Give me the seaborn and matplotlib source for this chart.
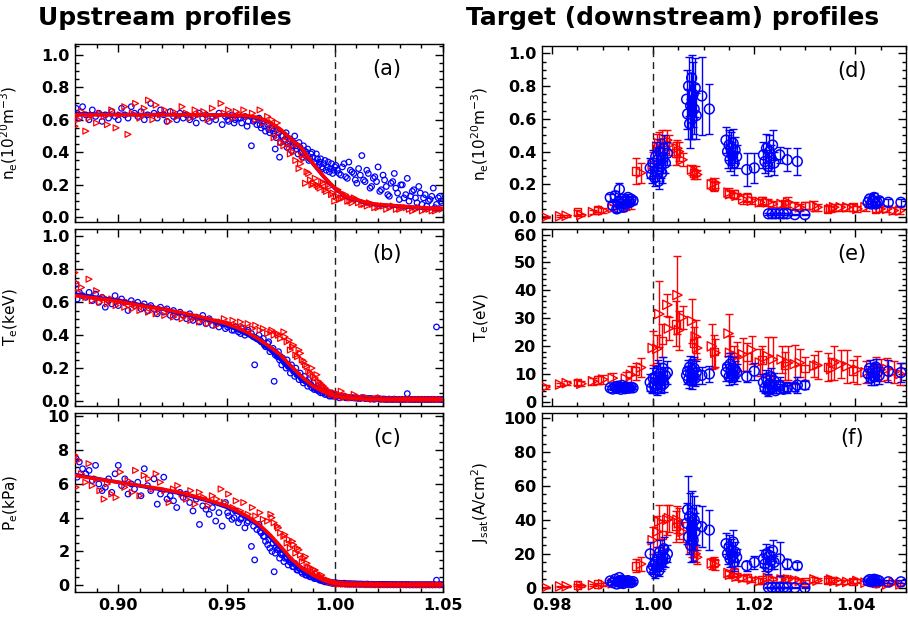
import matplotlib
matplotlib.use("Agg")
import matplotlib.pyplot as plt
import seaborn as sns
from matplotlib.ticker import MultipleLocator, FormatStrFormatter, NullFormatter

# ---------------- Upstream data (blue circles) ----------------
up_blue_x = [
    0.8805, 0.8810, 0.8820, 0.8835, 0.8850, 0.8865, 0.8880, 0.8895, 0.8910, 0.8925,
    0.8940, 0.8955, 0.8970, 0.8985, 0.9000, 0.9015, 0.9030, 0.9045, 0.9060, 0.9075,
    0.9090, 0.9105, 0.9120, 0.9135, 0.9150, 0.9165, 0.9180, 0.9195, 0.9210, 0.9225,
    0.9240, 0.9255, 0.9270, 0.9285, 0.9300,
    0.9315, 0.9330, 0.9345, 0.9360, 0.9375, 0.9390, 0.9405, 0.9420, 0.9435, 0.9450,
    0.9465, 0.9480, 0.9495, 0.9510, 0.9525, 0.9540, 0.9555, 0.9570, 0.9585, 0.9600,
    0.9615, 0.9630, 0.9640, 0.9650, 0.9660, 0.9670, 0.9680, 0.9690, 0.9700, 0.9710,
    0.9720, 0.9725, 0.9735, 0.9745, 0.9755, 0.9765, 0.9775, 0.9785, 0.9795, 0.9805,
    0.9815, 0.9825, 0.9835, 0.9845, 0.9855, 0.9865, 0.9875, 0.9885, 0.9895, 0.9905,
    0.9915, 0.9925, 0.9935, 0.9945, 0.9955, 0.9965, 0.9975, 0.9985, 0.9995,
    1.0005, 1.0020, 1.0035, 1.0050, 1.0065, 1.0080, 1.0095, 1.0110, 1.0125, 1.0140,
    1.0155, 1.0170, 1.0185, 1.0200, 1.0215, 1.0230, 1.0245, 1.0260, 1.0275, 1.0290,
    1.0305, 1.0320, 1.0335, 1.0350, 1.0365, 1.0380, 1.0395, 1.0410, 1.0425, 1.0440,
    1.0455, 1.0470, 1.0485, 1.0495]
up_blue_ne = [
    0.67, 0.64, 0.61, 0.68, 0.63, 0.60, 0.66, 0.62, 0.64, 0.59,
    0.63, 0.61, 0.65, 0.62, 0.60, 0.67, 0.63, 0.61, 0.68, 0.64,
    0.62, 0.65, 0.60, 0.63, 0.70, 0.64, 0.61, 0.66, 0.63, 0.59,
    0.65, 0.62, 0.60, 0.64, 0.61,
    0.63, 0.60, 0.62, 0.58, 0.64, 0.61, 0.63, 0.59, 0.62, 0.60,
    0.64, 0.57, 0.62, 0.59, 0.63, 0.60, 0.61, 0.58, 0.62, 0.59,
    0.44, 0.60, 0.57, 0.61, 0.55, 0.59, 0.53, 0.57, 0.52, 0.55,
    0.51, 0.42, 0.54, 0.37, 0.50, 0.47, 0.52, 0.45, 0.48, 0.44,
    0.50, 0.42, 0.46, 0.40, 0.44, 0.38, 0.42, 0.36, 0.40, 0.34,
    0.39, 0.32, 0.36, 0.30, 0.35, 0.31, 0.28, 0.33, 0.29,
    0.32, 0.27, 0.31, 0.25, 0.34, 0.28, 0.23, 0.30, 0.38, 0.22,
    0.27, 0.19, 0.25, 0.31, 0.17, 0.23, 0.14, 0.21, 0.27, 0.15,
    0.20, 0.12, 0.24, 0.13, 0.17, 0.09, 0.15, 0.12, 0.07, 0.11,
    0.18, 0.08, 0.13, 0.09]
up_blue_te = [
    0.71, 0.62, 0.66, 0.64, 0.63, 0.66, 0.61, 0.65, 0.60, 0.63,
    0.57, 0.61, 0.59, 0.64, 0.58, 0.62, 0.60, 0.55, 0.61, 0.58,
    0.60, 0.56, 0.59, 0.55, 0.58, 0.56, 0.53, 0.57, 0.54, 0.56,
    0.52, 0.55, 0.51, 0.54, 0.52,
    0.50, 0.53, 0.49, 0.51, 0.48, 0.52, 0.47, 0.50, 0.46, 0.48,
    0.45, 0.47, 0.44, 0.46, 0.43, 0.45, 0.42, 0.44, 0.40, 0.43,
    0.41, 0.22, 0.38, 0.40, 0.36, 0.38, 0.33, 0.35, 0.30, 0.31,
    0.12, 0.28, 0.27, 0.25, 0.22, 0.24, 0.20, 0.21, 0.17, 0.19,
    0.15, 0.16, 0.13, 0.14, 0.11, 0.12, 0.09, 0.10, 0.08, 0.07,
    0.07, 0.06, 0.05, 0.05, 0.04, 0.04, 0.03, 0.03, 0.03,
    0.030, 0.020, 0.025, 0.020, 0.020, 0.020, 0.018, 0.015, 0.020, 0.015,
    0.015, 0.014, 0.012, 0.015, 0.012, 0.012, 0.010, 0.010, 0.012, 0.010,
    0.010, 0.010, 0.045, 0.010, 0.010, 0.010, 0.010, 0.010, 0.010, 0.010,
    0.010, 0.450, 0.010, 0.010]
up_blue_pe = [
    7.5, 6.4, 7.3, 6.9, 6.6, 6.8, 6.2, 7.1, 6.0, 5.6,
    5.8, 6.3, 5.5, 6.6, 7.1, 5.9, 6.3, 5.4, 6.0, 5.7,
    6.1, 5.3, 6.9, 5.9, 5.6, 6.3, 4.8, 5.4, 6.4, 5.1,
    5.3, 5.0, 4.6, 5.5, 5.2,
    5.4, 4.9, 4.4, 5.1, 3.6, 4.7, 4.5, 4.2, 4.6, 3.8,
    4.3, 3.5, 4.9, 4.1, 3.9, 4.4, 3.7, 4.0, 3.4, 3.8,
    2.3, 1.5, 3.3, 3.6, 3.1, 2.9, 2.6, 2.4, 2.2, 2.0,
    0.8, 1.9, 2.1, 1.6, 1.8, 1.4, 1.7, 1.2, 1.5, 1.1,
    1.3, 0.9, 1.0, 0.8, 0.9, 0.6, 0.7, 0.5, 0.6, 0.4,
    0.45, 0.35, 0.3, 0.25, 0.2, 0.2, 0.15, 0.12, 0.1,
    0.15, 0.12, 0.10, 0.10, 0.09, 0.08, 0.08, 0.07, 0.07, 0.06,
    0.06, 0.06, 0.05, 0.05, 0.05, 0.05, 0.04, 0.04, 0.04, 0.04,
    0.04, 0.04, 0.05, 0.03, 0.03, 0.03, 0.03, 0.03, 0.03, 0.03,
    0.03, 0.30, 0.03, 0.03]

# second blue time slice (edge region)
up_blue2_x = [
    0.9505, 0.9535, 0.9565, 0.9595, 0.9625, 0.9655, 0.9675, 0.9695, 0.9715, 0.9730,
    0.9740, 0.9750, 0.9760, 0.9770, 0.9780, 0.9790, 0.9800, 0.9810, 0.9820, 0.9830,
    0.9840, 0.9850, 0.9860, 0.9870, 0.9880, 0.9890, 0.9900, 0.9910, 0.9920, 0.9930,
    0.9940, 0.9950, 0.9960, 0.9970, 0.9980, 0.9990, 1.0000, 1.0012, 1.0028, 1.0043,
    1.0058, 1.0072, 1.0088, 1.0102, 1.0118, 1.0133, 1.0148, 1.0163, 1.0178, 1.0193,
    1.0208, 1.0223, 1.0238, 1.0252, 1.0268, 1.0282, 1.0298, 1.0312, 1.0328, 1.0343,
    1.0358, 1.0373, 1.0388, 1.0403, 1.0418, 1.0433, 1.0448, 1.0463, 1.0478, 1.0490]
up_blue2_ne = [
    0.60, 0.58, 0.61, 0.56, 0.59, 0.57, 0.56, 0.54, 0.53, 0.49,
    0.52, 0.46, 0.50, 0.48, 0.43, 0.47, 0.41, 0.46, 0.44, 0.39,
    0.43, 0.37, 0.41, 0.40, 0.35, 0.39, 0.37, 0.33, 0.36, 0.34,
    0.31, 0.33, 0.29, 0.34, 0.30, 0.27, 0.31, 0.29, 0.26, 0.33,
    0.24, 0.29, 0.27, 0.21, 0.26, 0.23, 0.29, 0.18, 0.24, 0.22,
    0.16, 0.26, 0.19, 0.13, 0.22, 0.18, 0.11, 0.20, 0.14, 0.10,
    0.16, 0.12, 0.19, 0.08, 0.14, 0.10, 0.13, 0.06, 0.12, 0.10]
up_blue2_te = [
    0.45, 0.43, 0.41, 0.42, 0.39, 0.37, 0.34, 0.36, 0.32, 0.29,
    0.30, 0.27, 0.26, 0.23, 0.25, 0.21, 0.22, 0.18, 0.20, 0.16,
    0.17, 0.13, 0.15, 0.12, 0.13, 0.10, 0.11, 0.08, 0.09, 0.07,
    0.08, 0.06, 0.06, 0.05, 0.05, 0.04, 0.04, 0.03, 0.03, 0.03,
    0.02, 0.02, 0.02, 0.02, 0.015, 0.02, 0.015, 0.015, 0.012, 0.015,
    0.012, 0.012, 0.01, 0.012, 0.01, 0.01, 0.01, 0.01, 0.01, 0.01,
    0.01, 0.01, 0.01, 0.01, 0.01, 0.01, 0.01, 0.01, 0.01, 0.01]
up_blue2_pe = [
    4.3, 4.0, 3.9, 3.7, 3.5, 3.2, 2.9, 2.7, 2.5, 2.3,
    2.2, 1.9, 1.9, 1.6, 1.6, 1.4, 1.3, 1.1, 1.2, 0.9,
    1.0, 0.7, 0.8, 0.6, 0.6, 0.5, 0.5, 0.4, 0.4, 0.3,
    0.3, 0.25, 0.2, 0.2, 0.18, 0.15, 0.14, 0.12, 0.1, 0.12,
    0.08, 0.09, 0.08, 0.07, 0.07, 0.06, 0.07, 0.05, 0.05, 0.05,
    0.04, 0.05, 0.04, 0.04, 0.04, 0.04, 0.03, 0.04, 0.03, 0.03,
    0.03, 0.03, 0.03, 0.03, 0.03, 0.03, 0.03, 0.03, 0.03, 0.03]

# ---------------- Upstream data (red triangles) ----------------
up_red_x = [
    0.8800, 0.8805, 0.8815, 0.8830, 0.8850, 0.8865, 0.8880, 0.8900, 0.8915, 0.8935,
    0.8950, 0.8970, 0.8990, 0.9010, 0.9030, 0.9045, 0.9065, 0.9080, 0.9100, 0.9120,
    0.9140, 0.9160, 0.9175, 0.9195, 0.9215, 0.9235, 0.9255, 0.9275, 0.9295, 0.9315,
    0.9335, 0.9355, 0.9375, 0.9395, 0.9415, 0.9435, 0.9455, 0.9475, 0.9490, 0.9510,
    0.9530, 0.9545, 0.9565, 0.9580, 0.9600, 0.9620, 0.9635, 0.9655, 0.9670, 0.9690,
    0.9705, 0.9720, 0.9735, 0.9750, 0.9765, 0.9780, 0.9795, 0.9805, 0.9820, 0.9835,
    0.9850, 0.9865, 0.9880, 0.9895, 0.9910, 0.9925, 0.9940, 0.9955, 0.9970, 0.9985,
    1.0000, 1.0015, 1.0030, 1.0050, 1.0070, 1.0090, 1.0110, 1.0135, 1.0160, 1.0185,
    1.0210, 1.0240, 1.0270, 1.0300, 1.0330, 1.0360, 1.0390, 1.0420, 1.0450, 1.0480]
up_red_ne = [
    0.56, 0.62, 0.60, 0.65, 0.53, 0.61, 0.63, 0.58, 0.64, 0.62,
    0.57, 0.66, 0.55, 0.63, 0.68, 0.51, 0.64, 0.70, 0.61, 0.67,
    0.72, 0.60, 0.69, 0.63, 0.66, 0.59, 0.65, 0.62, 0.68, 0.64,
    0.61, 0.66, 0.63, 0.65, 0.60, 0.67, 0.62, 0.70, 0.64, 0.66,
    0.61, 0.65, 0.63, 0.66, 0.62, 0.64, 0.60, 0.66, 0.58, 0.62,
    0.55, 0.49, 0.58, 0.46, 0.44, 0.50, 0.39, 0.45, 0.35, 0.30,
    0.38, 0.21, 0.27, 0.20, 0.24, 0.19, 0.22, 0.17, 0.20, 0.14,
    0.10, 0.17, 0.12, 0.14, 0.10, 0.12, 0.09, 0.08, 0.09, 0.06,
    0.07, 0.05, 0.07, 0.05, 0.06, 0.04, 0.06, 0.05, 0.04, 0.05]
up_red_te = [
    0.78, 0.72, 0.66, 0.69, 0.63, 0.74, 0.61, 0.67, 0.60, 0.63,
    0.59, 0.62, 0.58, 0.61, 0.57, 0.60, 0.56, 0.59, 0.55, 0.58,
    0.54, 0.57, 0.53, 0.56, 0.52, 0.55, 0.51, 0.53, 0.50, 0.52,
    0.49, 0.51, 0.48, 0.50, 0.47, 0.49, 0.46, 0.48, 0.50, 0.47,
    0.49, 0.46, 0.48, 0.45, 0.47, 0.44, 0.46, 0.43, 0.44, 0.41,
    0.42, 0.40, 0.41, 0.38, 0.42, 0.36, 0.31, 0.33, 0.28, 0.31,
    0.25, 0.22, 0.18, 0.20, 0.14, 0.12, 0.10, 0.08, 0.06, 0.04,
    0.05, 0.03, 0.06, 0.03, 0.02, 0.04, 0.02, 0.02, 0.015, 0.015,
    0.02, 0.01, 0.01, 0.01, 0.01, 0.01, 0.01, 0.01, 0.01, 0.01]
up_red_pe = [
    7.7, 5.8, 7.4, 6.6, 6.1, 7.2, 5.9, 6.3, 5.6, 5.1,
    6.0, 5.4, 5.2, 6.7, 5.8, 6.2, 5.5, 6.8, 5.3, 6.5,
    6.3, 5.7, 6.6, 6.1, 5.6, 4.9, 5.7, 5.9, 5.4, 5.1,
    5.6, 4.8, 5.5, 5.2, 4.7, 5.3, 5.1, 5.7, 4.9, 5.4,
    4.6, 5.0, 4.4, 4.9, 4.2, 4.6, 4.1, 4.3, 3.9, 3.8,
    4.2, 3.7, 3.5, 3.1, 2.9, 2.5, 2.2, 2.6, 1.9, 2.1,
    1.4, 1.7, 1.1, 0.8, 0.9, 0.5, 0.6, 0.35, 0.3, 0.2,
    0.15, 0.1, 0.08, 0.07, 0.05, 0.05, 0.04, 0.04, 0.03, 0.03,
    0.03, 0.02, 0.02, 0.02, 0.02, 0.02, 0.02, 0.02, 0.02, 0.02]

# second red time slice (edge region)
up_red2_x = [
    0.9710, 0.9740, 0.9770, 0.9790, 0.9810, 0.9828, 0.9842, 0.9858, 0.9872, 0.9888,
    0.9902, 0.9918, 0.9932, 0.9948, 0.9962, 0.9978, 0.9992, 1.0008, 1.0022, 1.0040,
    1.0060, 1.0080, 1.0100, 1.0125, 1.0150, 1.0175, 1.0200, 1.0225, 1.0255, 1.0285,
    1.0315, 1.0345, 1.0375, 1.0405, 1.0435, 1.0465, 1.0495]
up_red2_ne = [
    0.60, 0.52, 0.47, 0.43, 0.40, 0.45, 0.33, 0.36, 0.28, 0.23,
    0.21, 0.20, 0.18, 0.21, 0.16, 0.19, 0.15, 0.13, 0.11, 0.12,
    0.10, 0.09, 0.11, 0.08, 0.07, 0.08, 0.06, 0.07, 0.06, 0.05,
    0.06, 0.05, 0.05, 0.04, 0.05, 0.04, 0.05]
up_red2_te = [
    0.43, 0.40, 0.39, 0.37, 0.34, 0.27, 0.29, 0.24, 0.21, 0.17,
    0.15, 0.16, 0.11, 0.09, 0.07, 0.05, 0.04, 0.03, 0.04, 0.02,
    0.03, 0.02, 0.02, 0.015, 0.02, 0.01, 0.015, 0.01, 0.01, 0.01,
    0.01, 0.01, 0.01, 0.01, 0.01, 0.01, 0.01]
up_red2_pe = [
    4.0, 3.4, 3.0, 2.7, 2.4, 2.2, 1.8, 1.6, 1.3, 1.0,
    0.9, 0.7, 0.55, 0.4, 0.3, 0.2, 0.15, 0.1, 0.08, 0.06,
    0.05, 0.04, 0.04, 0.03, 0.03, 0.03, 0.02, 0.02, 0.02, 0.02,
    0.02, 0.02, 0.02, 0.02, 0.02, 0.02, 0.02]

# ---------------- Upstream fits ----------------
fit_x = [0.880, 0.890, 0.900, 0.910, 0.920, 0.930, 0.940, 0.950, 0.955, 0.960,
         0.965, 0.970, 0.975, 0.980, 0.985, 0.990, 0.995, 1.000, 1.005, 1.010,
         1.015, 1.020, 1.030, 1.040, 1.050]
fit_red_ne = [0.630, 0.630, 0.630, 0.630, 0.630, 0.630, 0.630, 0.628, 0.627, 0.624,
              0.612, 0.585, 0.540, 0.480, 0.420, 0.330, 0.250, 0.180, 0.130, 0.110,
              0.090, 0.080, 0.070, 0.060, 0.055]
fit_blue_ne = [0.635, 0.634, 0.633, 0.632, 0.632, 0.631, 0.630, 0.627, 0.625, 0.620,
               0.608, 0.582, 0.538, 0.478, 0.418, 0.328, 0.248, 0.178, 0.128, 0.108,
               0.088, 0.078, 0.068, 0.058, 0.053]
fit_red_te = [0.640, 0.625, 0.605, 0.580, 0.560, 0.535, 0.505, 0.470, 0.445, 0.415,
              0.375, 0.330, 0.280, 0.210, 0.145, 0.090, 0.055, 0.030, 0.020, 0.015,
              0.010, 0.010, 0.008, 0.008, 0.008]
fit_blue_te = [0.650, 0.630, 0.610, 0.585, 0.560, 0.530, 0.500, 0.460, 0.432, 0.400,
               0.360, 0.310, 0.250, 0.190, 0.130, 0.080, 0.050, 0.030, 0.020, 0.015,
               0.010, 0.010, 0.008, 0.008, 0.008]
fit_red_pe = [6.50, 6.30, 6.10, 5.90, 5.70, 5.45, 5.10, 4.70, 4.40, 4.05,
              3.60, 3.00, 2.30, 1.55, 1.00, 0.60, 0.28, 0.10, 0.05, 0.03,
              0.03, 0.03, 0.03, 0.03, 0.03]
fit_blue_pe = [6.55, 6.32, 6.10, 5.88, 5.66, 5.40, 5.05, 4.62, 4.32, 3.95,
               3.50, 2.85, 2.15, 1.45, 0.90, 0.50, 0.22, 0.08, 0.04, 0.03,
               0.03, 0.03, 0.03, 0.03, 0.03]

# ---------------- Target data (red triangles) ----------------
tg_tri_x = [0.9787, 0.9816, 0.9829, 0.9858, 0.9881, 0.9901, 0.9920, 0.9946, 0.9956, 0.9976,
            0.9999, 1.0008, 1.0012, 1.0028, 1.0031, 1.0048, 1.0051, 1.0058, 1.0077, 1.0084,
            1.0087, 1.0116, 1.0123, 1.0149, 1.0152, 1.0165, 1.0178, 1.0195, 1.0211, 1.0227,
            1.0237, 1.0254, 1.0267, 1.0280, 1.0290, 1.0319, 1.0325, 1.0352, 1.0358, 1.0371,
            1.0384, 1.0404, 1.0420, 1.0450, 1.0463, 1.0476, 1.0489]
tg_tri_ne = [0.000, 0.005, 0.008, 0.012, 0.030, 0.040, 0.055, 0.065, 0.080, 0.270,
             0.320, 0.430, 0.450, 0.470, 0.440, 0.420, 0.400, 0.350, 0.290, 0.280,
             0.260, 0.200, 0.210, 0.150, 0.140, 0.130, 0.110, 0.100, 0.090, 0.090,
             0.080, 0.080, 0.090, 0.070, 0.060, 0.070, 0.060, 0.050, 0.060, 0.060,
             0.060, 0.050, 0.060, 0.050, 0.050, 0.040, 0.040]
tg_tri_ne_err = [0.005, 0.005, 0.006, 0.008, 0.012, 0.015, 0.020, 0.020, 0.030, 0.060,
                 0.080, 0.080, 0.070, 0.060, 0.060, 0.050, 0.060, 0.040, 0.030, 0.030,
                 0.030, 0.030, 0.030, 0.030, 0.020, 0.020, 0.030, 0.020, 0.020, 0.020,
                 0.020, 0.020, 0.030, 0.020, 0.020, 0.030, 0.020, 0.020, 0.020, 0.020,
                 0.020, 0.020, 0.020, 0.020, 0.020, 0.020, 0.020]
tg_tri_te = [5.3, 6.2, 6.7, 6.5, 7.4, 8.0, 8.5, 8.3, 9.7, 12.3,
             19.3, 19.0, 31.5, 34.8, 26.3, 38.3, 25.7, 30.3, 29.0, 23.4,
             19.3, 19.9, 17.6, 24.5, 17.6, 16.4, 17.0, 18.7, 14.1, 16.4,
             15.2, 15.2, 14.0, 13.5, 14.0, 12.9, 13.1, 11.7, 14.0, 13.5,
             12.7, 11.5, 10.6, 11.5, 11.7, 10.6, 10.0]
tg_tri_te_err = [0.6, 0.7, 0.8, 0.8, 1.2, 1.5, 2.0, 2.5, 3.0, 3.5,
                 6.0, 5.0, 12.0, 4.0, 4.0, 14.0, 7.0, 4.0, 8.0, 6.0,
                 4.0, 8.0, 5.0, 7.0, 6.0, 5.0, 6.0, 5.0, 5.0, 7.0,
                 8.0, 5.0, 6.0, 7.0, 5.0, 4.0, 5.0, 4.0, 6.0, 5.0,
                 6.0, 5.0, 4.0, 4.0, 4.0, 4.0, 4.0]
tg_tri_js = [0.2, 0.8, 0.9, 1.1, 1.5, 2.0, 2.6, 3.0, 4.0, 14.0,
             28.0, 33.0, 39.0, 40.0, 41.0, 40.0, 38.0, 33.0, 23.0, 20.0,
             18.0, 14.3, 13.4, 8.7, 7.7, 6.5, 5.8, 4.9, 4.0, 5.8,
             5.0, 4.9, 4.9, 4.5, 4.0, 4.9, 4.2, 4.9, 4.0, 3.6,
             3.4, 4.0, 3.0, 2.5, 2.0, 3.0, 2.0]
tg_tri_js_err = [0.3, 0.4, 0.4, 0.5, 0.6, 0.8, 0.9, 1.0, 1.5, 4.0,
                 8.0, 9.0, 10.0, 9.0, 8.0, 8.0, 9.0, 6.0, 5.0, 5.0,
                 4.0, 3.0, 3.0, 2.0, 2.0, 2.0, 2.0, 1.5, 1.5, 1.5,
                 1.5, 1.5, 1.5, 1.5, 1.2, 1.5, 1.5, 1.5, 1.5, 1.2,
                 1.2, 1.2, 1.0, 1.0, 1.0, 1.0, 1.0]

# ---------------- Target data (red squares) ----------------
tg_sq_x = [0.9850, 0.9890, 0.9965, 1.0018, 1.0045, 1.0080, 1.0120, 1.0160, 1.0185, 1.0215,
           1.0260, 1.0300, 1.0345, 1.0395, 1.0440]
tg_sq_ne = [0.030, 0.045, 0.280, 0.460, 0.390, 0.270, 0.190, 0.140, 0.120, 0.100,
            0.080, 0.070, 0.050, 0.060, 0.050]
tg_sq_ne_err = [0.015, 0.015, 0.080, 0.070, 0.070, 0.040, 0.030, 0.025, 0.025, 0.020,
                0.020, 0.020, 0.020, 0.020, 0.020]
tg_sq_te = [7.0, 7.8, 11.0, 22.0, 28.0, 21.0, 18.0, 15.0, 16.0, 15.0,
            13.0, 12.0, 12.5, 11.0, 12.0]
tg_sq_te_err = [1.0, 1.5, 3.0, 6.0, 8.0, 6.0, 6.0, 5.0, 5.0, 5.0,
                5.0, 4.0, 5.0, 4.0, 4.0]
tg_sq_js = [1.5, 2.2, 13.0, 31.0, 36.0, 24.0, 15.0, 9.0, 6.0, 4.5,
            5.0, 3.5, 4.5, 3.8, 2.5]
tg_sq_js_err = [0.6, 0.8, 4.0, 9.0, 9.0, 6.0, 3.0, 2.5, 2.0, 1.5,
                1.5, 1.2, 1.5, 1.2, 1.0]

# ---------------- Target data (blue circles) ----------------
tg_blue_x = [
    0.9915, 0.9920, 0.9925, 0.9928, 0.9930, 0.9933, 0.9936, 0.9938, 0.9941, 0.9944, 0.9947, 0.9950, 0.9953, 0.9956, 0.9960,
    0.9994, 0.9997, 1.0000, 1.0003, 1.0005, 1.0007, 1.0009, 1.0011, 1.0013, 1.0015, 1.0017, 1.0019, 1.0021, 1.0024, 1.0028,
    1.0066, 1.0068, 1.0070, 1.0072, 1.0074, 1.0076, 1.0077, 1.0079, 1.0081, 1.0083, 1.0085, 1.0096, 1.0111,
    1.0144, 1.0147, 1.0150, 1.0152, 1.0154, 1.0156, 1.0158, 1.0160, 1.0162, 1.0165, 1.0185, 1.0200,
    1.0218, 1.0221, 1.0224, 1.0227, 1.0230, 1.0233, 1.0236, 1.0239, 1.0250, 1.0265, 1.0285,
    1.0228, 1.0235, 1.0242, 1.0250, 1.0258, 1.0265, 1.0280, 1.0300,
    1.0425, 1.0428, 1.0431, 1.0434, 1.0437, 1.0440, 1.0443, 1.0447, 1.0465, 1.0490]
tg_blue_ne = [
    0.12, 0.07, 0.13, 0.05, 0.09, 0.17, 0.08, 0.11, 0.06, 0.10, 0.08, 0.12, 0.09, 0.11, 0.10,
    0.30, 0.26, 0.33, 0.24, 0.37, 0.28, 0.35, 0.22, 0.40, 0.31, 0.27, 0.36, 0.42, 0.33, 0.39,
    0.72, 0.63, 0.80, 0.57, 0.68, 0.85, 0.60, 0.75, 0.66, 0.79, 0.62, 0.74, 0.66,
    0.47, 0.40, 0.44, 0.35, 0.42, 0.38, 0.45, 0.33, 0.41, 0.37, 0.29, 0.30,
    0.38, 0.34, 0.42, 0.31, 0.40, 0.36, 0.44, 0.33, 0.38, 0.35, 0.34,
    0.02, 0.02, 0.02, 0.02, 0.02, 0.02, 0.015, 0.015,
    0.09, 0.11, 0.08, 0.10, 0.12, 0.08, 0.09, 0.10, 0.09, 0.09]
tg_blue_ne_err = [
    0.02, 0.02, 0.03, 0.02, 0.02, 0.04, 0.02, 0.02, 0.02, 0.02, 0.02, 0.02, 0.02, 0.02, 0.02,
    0.06, 0.05, 0.08, 0.05, 0.09, 0.06, 0.07, 0.05, 0.08, 0.07, 0.06, 0.09, 0.08, 0.06, 0.07,
    0.18, 0.15, 0.18, 0.15, 0.20, 0.14, 0.12, 0.20, 0.15, 0.18, 0.14, 0.24, 0.15,
    0.08, 0.10, 0.09, 0.07, 0.10, 0.08, 0.09, 0.07, 0.08, 0.07, 0.10, 0.09,
    0.08, 0.07, 0.09, 0.06, 0.10, 0.08, 0.09, 0.07, 0.05, 0.07, 0.08,
    0.005, 0.005, 0.005, 0.005, 0.005, 0.005, 0.005, 0.005,
    0.03, 0.03, 0.02, 0.03, 0.03, 0.02, 0.03, 0.02, 0.02, 0.02]
tg_blue_te = [
    5.0, 4.6, 5.4, 4.8, 5.6, 5.2, 4.5, 5.9, 5.1, 4.7, 5.3, 5.0, 4.9, 5.2, 5.0,
    7.0, 5.0, 8.5, 6.0, 9.0, 4.5, 11.0, 7.5, 10.0, 5.5, 8.0, 12.0, 6.5, 9.5, 10.5,
    9.5, 11.0, 8.0, 12.5, 10.0, 7.5, 11.5, 9.0, 12.0, 8.5, 10.5, 9.5, 10.0,
    10.5, 12.5, 9.0, 13.5, 11.0, 10.0, 12.0, 9.5, 11.5, 10.5, 9.0, 11.0,
    7.0, 5.0, 8.5, 4.0, 6.5, 9.0, 5.5, 7.5, 6.0, 5.0, 6.0,
    4.5, 5.0, 4.0, 5.5, 4.5, 5.0, 5.3, 6.0,
    10.0, 12.0, 8.5, 11.0, 9.0, 12.5, 10.5, 9.5, 11.0, 10.5]
tg_blue_te_err = [
    0.5, 0.5, 0.6, 0.5, 0.6, 0.6, 0.5, 0.6, 0.5, 0.5, 0.6, 0.5, 0.5, 0.5, 0.5,
    3.0, 2.0, 3.5, 2.5, 4.0, 2.0, 4.0, 3.0, 4.0, 2.5, 3.0, 4.0, 3.0, 3.0, 4.0,
    3.0, 4.0, 3.0, 4.0, 4.0, 3.0, 4.0, 3.0, 4.0, 3.0, 4.0, 3.0, 3.0,
    3.0, 4.0, 3.0, 4.0, 3.0, 3.0, 4.0, 3.0, 3.0, 3.0, 2.0, 3.0,
    3.0, 2.0, 3.0, 2.0, 3.0, 3.0, 2.5, 3.0, 3.0, 2.0, 3.0,
    1.0, 1.0, 1.0, 1.0, 1.0, 1.0, 1.5, 1.5,
    3.0, 3.0, 2.5, 3.0, 3.0, 3.0, 3.0, 3.0, 4.0, 3.5]
tg_blue_js = [
    4.0, 3.0, 5.0, 2.2, 3.5, 6.0, 2.8, 4.5, 2.5, 3.8, 3.2, 4.2, 3.5, 3.0, 3.6,
    20.0, 11.0, 13.0, 9.0, 15.0, 12.0, 18.0, 10.0, 21.0, 14.0, 16.0, 19.0, 23.0, 17.0, 20.0,
    38.0, 46.0, 30.0, 42.0, 25.0, 35.0, 44.0, 28.0, 40.0, 33.0, 37.0, 36.0, 34.0,
    26.0, 20.0, 24.0, 17.0, 22.0, 19.0, 27.0, 15.0, 21.0, 18.0, 13.0, 15.0,
    17.0, 14.0, 20.0, 12.0, 19.0, 16.0, 22.0, 15.0, 17.0, 14.0, 13.0,
    0.2, 0.3, 0.2, 0.3, 0.2, 0.2, 0.0, 0.0,
    4.0, 4.8, 3.5, 4.2, 5.0, 3.8, 4.5, 4.0, 3.5, 3.5]
tg_blue_js_err = [
    0.8, 0.8, 1.0, 0.6, 0.8, 1.2, 0.7, 0.9, 0.6, 0.8, 0.7, 0.9, 0.8, 0.8, 0.8,
    7.0, 3.0, 4.0, 3.0, 5.0, 4.0, 6.0, 3.0, 7.0, 4.0, 5.0, 6.0, 7.0, 5.0, 5.0,
    12.0, 20.0, 10.0, 14.0, 10.0, 12.0, 13.0, 12.0, 14.0, 11.0, 12.0, 12.0, 12.0,
    6.0, 6.0, 7.0, 5.0, 7.0, 6.0, 7.0, 5.0, 6.0, 5.0, 3.0, 4.0,
    5.0, 4.0, 6.0, 4.0, 5.0, 5.0, 6.0, 4.0, 10.0, 3.0, 2.0,
    0.2, 0.2, 0.2, 0.2, 0.2, 0.2, 0.2, 0.2,
    0.8, 1.0, 0.8, 0.9, 1.0, 0.8, 0.9, 0.8, 0.8, 0.8]

# ---------------- Text ----------------
title_left = "Upstream profiles"
title_right = "Target (downstream) profiles"
ylabels_left = [r"n$_e$(10$^{20}$m$^{-3}$)", r"T$_e$(keV)", r"P$_e$(kPa)"]
ylabels_right = [r"n$_e$(10$^{20}$m$^{-3}$)", r"T$_e$(eV)", r"J$_{sat}$(A/cm$^2$)"]
panel_left = ["(a)", "(b)", "(c)"]
panel_right = ["(d)", "(e)", "(f)"]

# ---------------- Figure ----------------
sns.set_style("ticks")
plt.rcParams['font.family'] = ['DejaVu Sans']
plt.rcParams['mathtext.fontset'] = 'dejavusans'
plt.rcParams['mathtext.default'] = 'regular'
plt.rcParams['text.color'] = 'black'
plt.rcParams['axes.labelcolor'] = 'black'
plt.rcParams['xtick.color'] = 'black'
plt.rcParams['ytick.color'] = 'black'
plt.rcParams['axes.edgecolor'] = 'black'

W, H = 908, 617
fig = plt.figure(figsize=(W / 100, H / 100), dpi=100)


def add_ax(l, t, r, b):
    return fig.add_axes([l / W, 1 - b / H, (r - l) / W, (b - t) / H])


left_axes = [add_ax(75, 44, 443, 222), add_ax(75, 229, 443, 406), add_ax(75, 413, 443, 592)]
right_axes = [add_ax(542, 46, 906, 222), add_ax(542, 229, 906, 406), add_ax(542, 413, 906, 592)]

BLUE = "#0000ff"
RED = "#ff0000"


def style(ax, xlim, xmaj, xmin, ylim, ymaj, ymin, yfmt, xfmt, showx):
    ax.set_xlim(*xlim)
    ax.set_ylim(*ylim)
    ax.xaxis.set_major_locator(MultipleLocator(xmaj))
    ax.xaxis.set_minor_locator(MultipleLocator(xmin))
    ax.yaxis.set_major_locator(MultipleLocator(ymaj))
    ax.yaxis.set_minor_locator(MultipleLocator(ymin))
    ax.yaxis.set_major_formatter(FormatStrFormatter(yfmt))
    if showx:
        ax.xaxis.set_major_formatter(FormatStrFormatter(xfmt))
    else:
        ax.xaxis.set_major_formatter(NullFormatter())
    ax.tick_params(which='both', direction='in', top=True, right=True,
                   width=1, colors='black', labelsize=11.5)
    ax.tick_params(which='major', length=6, pad=4)
    ax.tick_params(which='minor', length=3)
    for lab in ax.get_xticklabels() + ax.get_yticklabels():
        lab.set_fontweight('bold')
    for s in ax.spines.values():
        s.set_visible(True)
        s.set_linewidth(1.0)
        s.set_color('black')
    ax.axvline(1.0, color='#222222', lw=1.0, ls=(0, (5, 3.5)), zorder=1)
    ax.set_xlabel("")


def up_scatter(ax, yb, yb2, yr, yr2, fb, fr):
    sns.scatterplot(x=up_blue_x + up_blue2_x, y=yb + yb2, ax=ax, marker='o', s=16,
                    facecolor='none', edgecolor=BLUE, linewidth=0.9, legend=False, zorder=3)
    sns.scatterplot(x=up_red_x + up_red2_x, y=yr + yr2, ax=ax, marker='>', s=18,
                    facecolor='none', edgecolor=RED, linewidth=0.9, legend=False, zorder=3)
    sns.lineplot(x=fit_x, y=fb, ax=ax, color=BLUE, linewidth=2.6, estimator=None,
                 sort=False, legend=False, zorder=4)
    sns.lineplot(x=fit_x, y=fr, ax=ax, color=RED, linewidth=2.6, estimator=None,
                 sort=False, legend=False, zorder=5)


up_scatter(left_axes[0], up_blue_ne, up_blue2_ne, up_red_ne, up_red2_ne, fit_blue_ne, fit_red_ne)
up_scatter(left_axes[1], up_blue_te, up_blue2_te, up_red_te, up_red2_te, fit_blue_te, fit_red_te)
up_scatter(left_axes[2], up_blue_pe, up_blue2_pe, up_red_pe, up_red2_pe, fit_blue_pe, fit_red_pe)

style(left_axes[0], (0.88, 1.05), 0.05, 0.01, (-0.028, 1.065), 0.2, 0.05, '%.1f', '%.2f', False)
style(left_axes[1], (0.88, 1.05), 0.05, 0.01, (-0.03, 1.045), 0.2, 0.05, '%.1f', '%.2f', False)
style(left_axes[2], (0.88, 1.05), 0.05, 0.01, (-0.4, 10.2), 2, 0.5, '%d', '%.2f', True)


def tg_plot(ax, tri_y, tri_e, sq_y, sq_e, bl_y, bl_e):
    ax.errorbar(tg_tri_x, tri_y, yerr=tri_e, fmt='none', ecolor=RED, elinewidth=1.0,
                capsize=3, capthick=1.0, zorder=2)
    ax.errorbar(tg_sq_x, sq_y, yerr=sq_e, fmt='none', ecolor=RED, elinewidth=1.0,
                capsize=3, capthick=1.0, zorder=2)
    sns.scatterplot(x=tg_tri_x, y=tri_y, ax=ax, marker='>', s=45, facecolor='none',
                    edgecolor=RED, linewidth=1.0, legend=False, zorder=3)
    sns.scatterplot(x=tg_sq_x, y=sq_y, ax=ax, marker='s', s=30, facecolor='none',
                    edgecolor=RED, linewidth=1.0, legend=False, zorder=3)
    ax.errorbar(tg_blue_x, bl_y, yerr=bl_e, fmt='none', ecolor=BLUE, elinewidth=1.0,
                capsize=3, capthick=1.0, zorder=4)
    sns.scatterplot(x=tg_blue_x, y=bl_y, ax=ax, marker='o', s=50, facecolor='none',
                    edgecolor=BLUE, linewidth=1.1, legend=False, zorder=5)


tg_plot(right_axes[0], tg_tri_ne, tg_tri_ne_err, tg_sq_ne, tg_sq_ne_err, tg_blue_ne, tg_blue_ne_err)
tg_plot(right_axes[1], tg_tri_te, tg_tri_te_err, tg_sq_te, tg_sq_te_err, tg_blue_te, tg_blue_te_err)
tg_plot(right_axes[2], tg_tri_js, tg_tri_js_err, tg_sq_js, tg_sq_js_err, tg_blue_js, tg_blue_js_err)

style(right_axes[0], (0.978, 1.05), 0.02, 0.005, (-0.03, 1.045), 0.2, 0.05, '%.1f', '%.2f', False)
style(right_axes[1], (0.978, 1.05), 0.02, 0.005, (-1.5, 62), 10, 2, '%d', '%.2f', False)
style(right_axes[2], (0.978, 1.05), 0.02, 0.005, (-2.5, 103), 20, 5, '%d', '%.2f', True)

for ax, lab, pl in zip(left_axes, ylabels_left, panel_left):
    ax.set_ylabel(lab, fontsize=11, fontweight='normal', color='black')
    ax.yaxis.set_label_coords(-0.150, 0.5)
    ax.text(0.848, 0.86, pl, transform=ax.transAxes, fontsize=15, ha='center',
            va='center', color='black')
for ax, lab, pl in zip(right_axes, ylabels_right, panel_right):
    ax.set_ylabel(lab, fontsize=11, fontweight='normal', color='black')
    ax.yaxis.set_label_coords(-0.140, 0.5)
    ax.text(0.852, 0.86, pl, transform=ax.transAxes, fontsize=15, ha='center',
            va='center', color='black')

fig.text(38 / W, 1 - 18 / H, title_left, fontsize=18, fontweight='bold',
         ha='left', va='center', color='black')
fig.text(466 / W, 1 - 18 / H, title_right, fontsize=18, fontweight='bold',
         ha='left', va='center', color='black')

fig.savefig("out.png", dpi=100)
